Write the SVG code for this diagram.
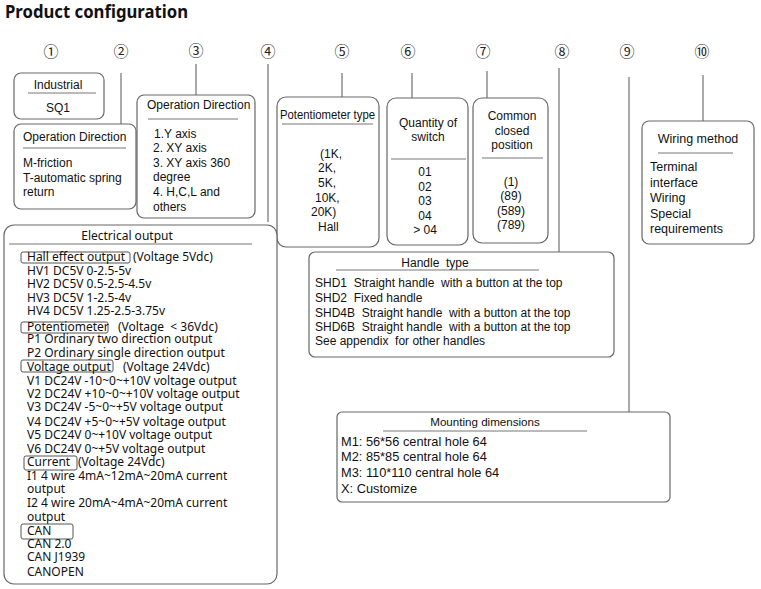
<svg xmlns="http://www.w3.org/2000/svg" width="761" height="589" viewBox="0 0 761 589">
<style>
.bg{fill:#fff}
.box{fill:#fff;stroke:#666;stroke-width:1.2}
.tag{fill:none;stroke:#555;stroke-width:1}
.div{stroke:#777;stroke-width:1}
.con{stroke:#555;stroke-width:1;fill:none}
.a{font-family:"Liberation Sans",Arial,sans-serif;font-size:12px;fill:#111}
.r{font-size:12.5px}
.e{font-family:"Noto Sans","Open Sans",sans-serif;font-size:12px;fill:#111}
.num{font-family:"Noto Sans CJK SC","DejaVu Sans",sans-serif;font-size:15px;fill:#222;text-anchor:middle}
.title{font-family:"Noto Sans","Open Sans",sans-serif;font-size:17.5px;font-weight:bold;fill:#111}
.m{text-anchor:middle}
</style>
<rect class="bg" x="0" y="0" width="761" height="589"/>
<text class="title" x="5" y="18" textLength="183" lengthAdjust="spacingAndGlyphs">Product configuration</text>

<g id="numbers">
<text class="num" x="51" y="57">①</text>
<text class="num" x="121" y="57">②</text>
<text class="num" x="196" y="56">③</text>
<text class="num" x="268" y="57">④</text>
<text class="num" x="342" y="57">⑤</text>
<text class="num" x="408" y="57">⑥</text>
<text class="num" x="483" y="57">⑦</text>
<text class="num" x="562" y="57">⑧</text>
<text class="num" x="627" y="57">⑨</text>
<text class="num" x="702" y="57">⑩</text>
</g>

<g id="connectors">
<line class="con" x1="121" y1="73" x2="121" y2="124"/>
<line class="con" x1="196" y1="64" x2="196" y2="95"/>
<line class="con" x1="268" y1="64" x2="268" y2="222"/>
<line class="con" x1="342" y1="73" x2="342" y2="97"/>
<line class="con" x1="412" y1="73" x2="412" y2="98"/>
<line class="con" x1="487" y1="71" x2="487" y2="98"/>
<line class="con" x1="559" y1="68" x2="559" y2="253"/>
<line class="con" x1="629" y1="77" x2="629" y2="412"/>
<line class="con" x1="703" y1="75" x2="703" y2="121"/>
</g>

<g id="node1">
<rect class="box" x="14" y="73" width="90" height="46" rx="7"/>
<text class="a m" x="58" y="89">Industrial</text>
<line class="div" x1="28" y1="93" x2="96" y2="93"/>
<text class="a m" x="58" y="112">SQ1</text>
</g>

<g id="node2">
<rect class="box" x="14" y="124" width="122" height="85" rx="7"/>
<text class="a" x="23" y="141">Operation Direction</text>
<line class="div" x1="23" y1="148" x2="126" y2="148"/>
<text class="a" x="23" y="167">M-friction</text>
<text class="a" x="23" y="182">T-automatic spring</text>
<text class="a" x="23" y="196">return</text>
</g>

<g id="node3">
<rect class="box" x="137" y="95" width="118" height="123" rx="7"/>
<text class="a" x="147" y="109">Operation Direction</text>
<line class="div" x1="148" y1="119" x2="238" y2="119"/>
<text class="a" x="154" y="138">1.Y axis</text>
<text class="a" x="153" y="152">2. XY axis</text>
<text class="a" x="153" y="167">3. XY axis 360</text>
<text class="a" x="153" y="181">degree</text>
<text class="a" x="153" y="196">4. H,C,L and</text>
<text class="a" x="153" y="211">others</text>
</g>

<g id="node5">
<rect class="box" x="277" y="97" width="102" height="150" rx="9"/>
<text class="a" x="280" y="119" textLength="95" lengthAdjust="spacingAndGlyphs">Potentiometer type</text>
<line class="div" x1="282" y1="124" x2="373" y2="124"/>
<text class="a" x="320" y="158">(1K,</text>
<text class="a" x="318" y="172">2K,</text>
<text class="a" x="318" y="187">5K,</text>
<text class="a" x="315" y="202">10K,</text>
<text class="a" x="311" y="216">20K)</text>
<text class="a" x="318" y="231">Hall</text>
</g>

<g id="node6">
<rect class="box" x="387" y="98" width="81" height="147" rx="9"/>
<text class="a m" x="428" y="127">Quantity of</text>
<text class="a m" x="428" y="141">switch</text>
<line class="div" x1="391" y1="159" x2="466" y2="159"/>
<text class="a m" x="425" y="176">01</text>
<text class="a m" x="425" y="191">02</text>
<text class="a m" x="425" y="205">03</text>
<text class="a m" x="425" y="220">04</text>
<text class="a m" x="425" y="234">&gt; 04</text>
</g>

<g id="node7">
<rect class="box" x="473" y="98" width="75" height="145" rx="9"/>
<text class="a m" x="512" y="120">Common</text>
<text class="a m" x="512" y="135">closed</text>
<text class="a m" x="512" y="149">position</text>
<line class="div" x1="482" y1="158" x2="543" y2="158"/>
<text class="a m" x="511" y="186">(1)</text>
<text class="a m" x="511" y="200">(89)</text>
<text class="a m" x="511" y="215">(589)</text>
<text class="a m" x="511" y="229">(789)</text>
</g>

<g id="node10">
<rect class="box" x="642" y="121" width="112" height="123" rx="7"/>
<text class="a r m" x="698" y="143">Wiring method</text>
<line class="div" x1="658" y1="153" x2="733" y2="153"/>
<text class="a r" x="650" y="171">Terminal</text>
<text class="a r" x="650" y="187">interface</text>
<text class="a r" x="650" y="202">Wiring</text>
<text class="a r" x="650" y="218">Special</text>
<text class="a r" x="650" y="233">requirements</text>
</g>

<g id="node8">
<rect class="box" x="309" y="252" width="305" height="105" rx="6"/>
<text class="a m" x="435" y="267" xml:space="preserve">Handle  type</text>
<line class="div" x1="336" y1="270" x2="539" y2="270"/>
<text class="a" x="315" y="287" xml:space="preserve">SHD1  Straight handle  with a button at the top</text>
<text class="a" x="315" y="302" xml:space="preserve">SHD2  Fixed handle</text>
<text class="a" x="315" y="317" xml:space="preserve">SHD4B  Straight handle  with a button at the top</text>
<text class="a" x="315" y="331" xml:space="preserve">SHD6B  Straight handle  with a button at the top</text>
<text class="a" x="315" y="345" xml:space="preserve">See appendix  for other handles</text>
</g>

<g id="node9">
<rect class="box" x="337" y="412" width="333" height="90" rx="5"/>
<text class="a m" x="485" y="426" style="font-size:11.6px">Mounting dimensions</text>
<line class="div" x1="383" y1="431" x2="587" y2="431"/>
<text class="a" x="341" y="446" style="font-size:12.8px">M1: 56*56 central hole 64</text>
<text class="a" x="341" y="461" style="font-size:12.8px">M2: 85*85 central hole 64</text>
<text class="a" x="341" y="477" style="font-size:12.8px">M3: 110*110 central hole 64</text>
<text class="a" x="341" y="493" style="font-size:12.8px">X: Customize</text>
</g>

<g id="node4">
<rect class="box" x="4" y="225" width="273" height="359" rx="10"/>
<text class="e m" x="127" y="240">Electrical output</text>
<line class="div" x1="9" y1="244" x2="252" y2="244"/>
<rect class="tag" x="21" y="252" width="109" height="11" rx="2"/>
<text class="e" x="27" y="261">Hall effect output</text>
<text class="e" x="133" y="261">(Voltage 5Vdc)</text>
<text class="e" x="27" y="275">HV1 DC5V 0-2.5-5v</text>
<text class="e" x="27" y="288">HV2 DC5V 0.5-2.5-4.5v</text>
<text class="e" x="27" y="302">HV3 DC5V 1-2.5-4v</text>
<text class="e" x="27" y="315">HV4 DC5V 1.25-2.5-3.75v</text>
<rect class="tag" x="21" y="322" width="87" height="11" rx="2"/>
<text class="e" x="27" y="331">Potentiometer</text>
<text class="e" x="118" y="331" xml:space="preserve">(Voltage  &lt; 36Vdc)</text>
<text class="e" x="27" y="343">P1 Ordinary two direction output</text>
<text class="e" x="27" y="357">P2 Ordinary single direction output</text>
<rect class="tag" x="21" y="360" width="92" height="12" rx="2"/>
<text class="e" x="27" y="371">Voltage output</text>
<text class="e" x="123" y="371">(Voltage 24Vdc)</text>
<text class="e" x="27" y="385">V1 DC24V -10~0~+10V voltage output</text>
<text class="e" x="27" y="398">V2 DC24V +10~0~+10V voltage output</text>
<text class="e" x="27" y="411">V3 DC24V -5~0~+5V voltage output</text>
<text class="e" x="27" y="426">V4 DC24V +5~0~+5V voltage output</text>
<text class="e" x="27" y="439">V5 DC24V 0~+10V voltage output</text>
<text class="e" x="27" y="453">V6 DC24V 0~+5V voltage output</text>
<rect class="tag" x="24" y="456" width="53" height="14" rx="2"/>
<text class="e" x="27" y="466">Current</text>
<text class="e" x="78" y="466">(Voltage 24Vdc)</text>
<text class="e" x="27" y="480">I1 4 wire 4mA~12mA~20mA current</text>
<text class="e" x="27" y="493">output</text>
<text class="e" x="27" y="507">I2 4 wire 20mA~4mA~20mA current</text>
<text class="e" x="27" y="521">output</text>
<rect class="tag" x="21" y="524" width="52" height="15" rx="2"/>
<text class="e" x="27" y="535">CAN</text>
<text class="e" x="27" y="548">CAN 2.0</text>
<text class="e" x="27" y="561">CAN J1939</text>
<text class="e" x="27" y="576">CANOPEN</text>
</g>
</svg>
